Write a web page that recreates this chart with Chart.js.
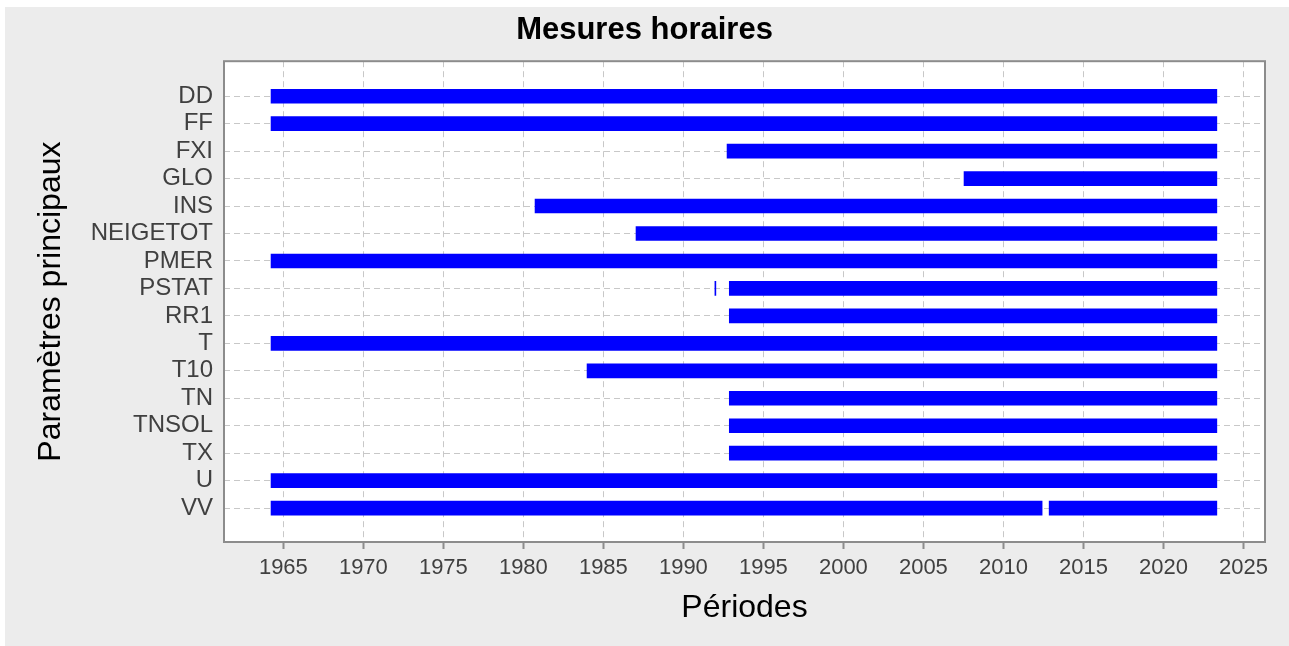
<!DOCTYPE html>
<html lang="fr">
<head>
<meta charset="utf-8">
<title>Mesures horaires</title>
<script src="https://cdn.jsdelivr.net/npm/chart.js@4/dist/chart.umd.min.js"></script>
<style>
  html, body { margin: 0; padding: 0; background: #ffffff; }
  #wrap { position: relative; width: 1289px; height: 646px; }
</style>
</head>
<body>
<div id="wrap"><canvas id="periods"></canvas></div>
<script>
// ─── Data (years as decimals) ───────────────────────────────────────────────

const PARAMS = ['DD', 'FF', 'FXI', 'GLO', 'INS', 'NEIGETOT', 'PMER', 'PSTAT',
                'RR1', 'T', 'T10', 'TN', 'TNSOL', 'TX', 'U', 'VV'];

const START_YEARS = [1964.23, 1964.23, 1992.73, 2007.54, 1980.73, 1987.04, 1964.23, 1992.87,
                     1992.87, 1964.23, 1983.98, 1992.87, 1992.87, 1992.87, 1964.23, 1964.23];

const END_YEARS = [2023.34, 2023.34, 2023.34, 2023.34, 2023.34, 2023.34, 2023.34, 2023.34,
                   2023.34, 2023.34, 2023.34, 2023.34, 2023.34, 2023.34, 2023.34, 2012.42];

// second pieces of broken series
const EXTRA_PARAMS = ['PSTAT', 'VV'];
const EXTRA_START  = [1991.97, 2012.86];
const EXTRA_END    = [1992.03, 2023.34];

const YEAR_TICKS = [1965, 1970, 1975, 1980, 1985, 1990, 1995, 2000, 2005, 2010, 2015, 2020, 2025];

// ─── Style ──────────────────────────────────────────────────────────────────

const COLORS = {
  bar:   '#0000ff',
  panel: '#ececec',
  plot:  '#ffffff',
  frame: '#8c8c8c',
  grid:  '#c8c8c8',
  tick:  '#404040',
  text:  '#000000',
};
const FONT = '"Liberation Sans", Arial, Helvetica, sans-serif';

const X_MIN = 1961.29, X_MAX = 2026.35;
const Y_MIN = -0.275, Y_MAX = 17.235;

// grey panel, white plot area and frame round it
const panelPlugin = {
  id: 'panel',
  afterLayout(chart) {
    // centre the title on the whole figure, not just the layout box
    const tb = chart.titleBlock;
    if (tb) { tb.left = 0; tb.right = chart.width; tb.width = chart.width; }
  },
  beforeDraw(chart) {
    const { ctx, chartArea: a } = chart;
    ctx.save();
    ctx.fillStyle = COLORS.panel;
    ctx.fillRect(5, 7, chart.width - 5, chart.height - 7);
    ctx.fillStyle = COLORS.plot;
    ctx.fillRect(a.left, a.top, a.right - a.left, a.bottom - a.top);
    ctx.restore();
  },
  afterDatasetsDraw(chart) {
    const { ctx, chartArea: a } = chart;
    ctx.save();
    ctx.strokeStyle = COLORS.frame;
    ctx.lineWidth = 2;
    ctx.strokeRect(a.left, a.top, a.right - a.left, a.bottom - a.top);
    ctx.restore();
  },
};

const mainSegments = PARAMS.map((p, i) => ({ y: i + 1, x: [START_YEARS[i], END_YEARS[i]] }));
const extraSegments = EXTRA_PARAMS.map((p, i) => ({
  y: PARAMS.indexOf(p) + 1,
  x: [EXTRA_START[i], EXTRA_END[i]],
}));

new Chart(document.getElementById('periods'), {
  type: 'bar',
  data: {
    datasets: [
      { data: mainSegments, backgroundColor: COLORS.bar, barThickness: 14, grouped: false },
      { data: extraSegments, backgroundColor: COLORS.bar, barThickness: 14, grouped: false },
    ],
  },
  options: {
    responsive: true,
    maintainAspectRatio: false,
    animation: false,
    indexAxis: 'y',
    layout: { padding: { left: 0, right: 24, top: 0, bottom: 0 } },
    plugins: {
      legend: { display: false },
      tooltip: { enabled: false },
      title: {
        display: true,
        text: 'Mesures horaires',
        color: COLORS.text,
        font: { family: FONT, size: 31, weight: 'bold' },
        padding: { top: 12, bottom: 12 },
      },
    },
    scales: {
      x: {
        type: 'linear',
        position: 'bottom',
        bounds: 'data',
        min: X_MIN,
        max: X_MAX,
        afterBuildTicks: s => {
          s.ticks = YEAR_TICKS.map(v => ({ value: v }));
          s.min = X_MIN; s.max = X_MAX;
        },
        afterFit: s => { s.height = 104; },
        ticks: {
          autoSkip: false,
          maxRotation: 0,
          padding: 6,
          color: COLORS.tick,
          font: { family: FONT, size: 22 },
          callback: v => String(v),
        },
        grid: {
          color: COLORS.grid,
          lineWidth: 1,
          drawTicks: true,
          tickLength: 7,
          tickWidth: 2,
          tickColor: COLORS.frame,
          tickBorderDash: [],
        },
        border: { display: false, dash: [6, 4] },
        title: {
          display: true,
          text: 'Périodes',
          color: COLORS.text,
          font: { family: FONT, size: 32 },
          padding: { top: 0, bottom: 19 },
        },
      },
      y: {
        type: 'linear',
        reverse: true,
        offset: false,
        bounds: 'data',
        min: Y_MIN,
        max: Y_MAX,
        afterBuildTicks: s => {
          s.ticks = PARAMS.map((p, i) => ({ value: i + 1 }));
          s.min = Y_MIN; s.max = Y_MAX;
        },
        afterFit: s => { s.width = 224; },
        ticks: {
          autoSkip: false,
          padding: 11,
          color: COLORS.tick,
          font: { family: FONT, size: 24 },
          callback: v => PARAMS[v - 1] ?? '',
        },
        grid: { color: COLORS.grid, lineWidth: 1, drawTicks: false, offset: false },
        border: { display: false, dash: [6, 4] },
        title: {
          display: true,
          text: 'Paramètres principaux',
          color: COLORS.text,
          font: { family: FONT, size: 32 },
          padding: { top: 32, bottom: 0 },
        },
      },
    },
  },
  plugins: [panelPlugin],
});
</script>
</body>
</html>
